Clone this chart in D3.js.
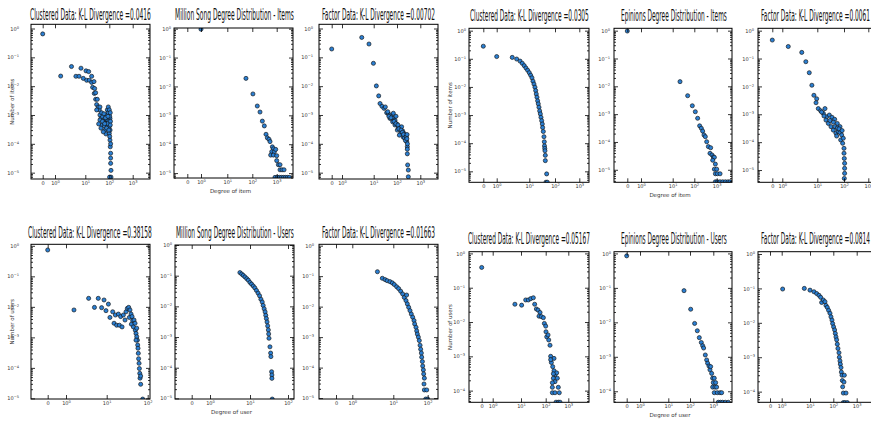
<!DOCTYPE html>
<html lang="en">
<head>
  <meta charset="UTF-8">
  <title>Degree distributions</title>
  <script src="https://d3js.org/d3.v7.min.js"></script>
  <style>
    body { margin: 0; background: #fff; }
    svg { display: block; }
    .tick text { font-family: "DejaVu Sans", sans-serif; font-size: 5px; fill: #333; }
    .tick line { stroke: #000; stroke-width: 0.8; }
    .axis-title { font-family: "DejaVu Sans", sans-serif; font-size: 5.5px; fill: #333; }
    .title { font-family: "DejaVu Sans", sans-serif; font-size: 15.5px; fill: #111; }
  </style>
</head>
<body>
  <svg width="871" height="422"></svg>
  <script>
    // titles, in panel order (left half 3x2, right half 3x2)
    const titles = [
      "Clustered Data: K-L Divergence =0.0416",
      "Million Song Degree Distribution - Items",
      "Factor Data: K-L Divergence =0.00702",
      "Clustered Data: K-L Divergence =0.0305",
      "Epinions Degree Distribution - Items",
      "Factor Data: K-L Divergence =0.0061",
      "Clustered Data: K-L Divergence =0.38158",
      "Million Song Degree Distribution - Users",
      "Factor Data: K-L Divergence =0.01663",
      "Clustered Data: K-L Divergence =0.05167",
      "Epinions Degree Distribution - Users",
      "Factor Data: K-L Divergence =0.0814"
    ];
    const yTitles = ["Number of items", "", "", "Number of items", "", "", "Number of users", "", "", "Number of users", "", ""];
    const xTitles = ["", "Degree of item", "", "", "Degree of item", "", "", "Degree of user", "", "", "Degree of user", ""];
    const xTickValues = [0, 1, 10, 100, 1000];

    // [degree, fraction]
    const clusteredItemsL = [[0,0.65],[1.54,0.0224],[3.5,0.048],[4.9,0.022],[6.2,0.022],[7.2,0.042],[8.6,0.0186],[10.7,0.034],[13.8,0.032],[11.4,0.016],[14.7,0.016],[18.4,0.022],[18.4,0.0135],[23,0.0144],[20.2,0.0091],[24.5,0.0083],[23.7,0.0056],[27,0.0059],[27,0.0035],[31.6,0.0035],[29.7,0.0023],[34.8,0.0019],[38.3,0.0015],[40.8,0.001],[48,0.0012],[45,0.00076],[52.7,0.00087],[56,0.00059],[49.5,0.00045],[62,0.00042],[68,0.0003],[72.6,0.00022],[66,0.00076],[77.4,0.001],[82.6,0.0015],[90.8,0.0019],[82.6,0.00067],[90.8,0.00051],[100,0.0004],[77.4,0.00035],[107,0.00076],[100,0.00023],[107,0.000135],[110,7.9e-5],[114,4.7e-5],[114,3.2e-5],[114,2.1e-5],[118,1.2e-5],[118,7e-6],[103,7e-6],[40.8,6.7e-4],[36,4.9e-4],[45,3.5e-4],[56,2.6e-4],[72.6,5.1e-4],[90.8,1.2e-3],[100,1.5e-3],[60,1.1e-3],[29.7,1.5e-3],[40.8,1.9e-3],[104,0.0009],[95,0.0006],[85,0.0005],[110,0.0012],[112,0.0006],[108,0.0003],[104,0.00018],[52,0.0006],[64,0.0005],[70,0.0008],[88,0.0009],[96,0.0003],[110,0.00045],[114,0.0001]];
    const millionSongItems = [[1,0.96],[55.8,0.019],[106,0.0055],[160,0.0021],[207,0.0013],[258,0.00063],[311,0.00043],[365,0.00022],[413,0.000166],[484,0.000148],[532,0.000123],[664,8.1e-5],[730,6.9e-5],[624,5.5e-5],[802,5.5e-5],[910,6.6e-5],[566,4.2e-5],[730,4.2e-5],[1000,4e-5],[1000,2.7e-5],[1170,1.95e-5],[1370,1.95e-5],[1370,1.3e-5],[1660,1.3e-5],[2000,1.3e-5],[852,7.1e-6],[1065,7.1e-6],[1290,7.1e-6],[1560,7.1e-6],[1880,7.1e-6],[2270,7.1e-6],[2740,7.1e-6],[3300,7.1e-6]];
    const factorItemsL = [[0,0.195],[4.2,0.49],[7.1,0.29],[9.8,0.062],[13,0.0102],[16.4,0.0046],[18.7,0.0025],[22.7,0.002],[27.7,0.0017],[31.6,0.0019],[36,0.0012],[42.5,0.0011],[50,0.001],[59,0.00087],[69.6,0.00076],[50,0.00076],[65,0.00058],[82,0.00066],[97,0.00049],[82,0.00045],[114,0.00039],[103,0.0003],[134,0.00035],[158,0.00039],[175,0.00028],[144,0.00023],[200,0.00023],[126,0.0002],[187,0.00017],[220,0.0002],[243,0.000155],[260,0.00012],[277,7.9e-5],[277,6.5e-5],[277,4.5e-5],[286,1.85e-5],[306,1.23e-5],[306,7.2e-6],[69.6,0.00115],[90.6,0.0009],[40,0.0013],[45,0.0009],[55,0.0008],[75,0.0006],[90,0.0005],[110,0.00045],[120,0.00033],[150,0.0003],[170,0.00025],[190,0.00021],[210,0.00016],[230,0.00013],[250,0.00018],[265,0.00015],[280,0.0001],[270,0.00021]];
    const clusteredItemsR = [[0,0.28],[1,0.12],[3.0,0.112],[4.1,0.098],[5.2,0.083],[6.1,0.069],[7.0,0.057],[7.9,0.047],[8.9,0.039],[10,0.032],[11.3,0.026],[12.7,0.021],[13.9,0.016],[15.2,0.0126],[16.6,0.0098],[17.7,0.0074],[18.7,0.0056],[19.9,0.0043],[21.1,0.0032],[22.4,0.0025],[23.8,0.0019],[25.3,0.0014],[26.9,0.0011],[28.5,0.00083],[30.3,0.00063],[32.1,0.00048],[33,0.00036],[35.1,0.00026],[37.2,0.00017],[38.4,0.000112],[39,8e-5],[40,6.5e-5],[40.7,5.4e-5],[42,3.7e-5],[42,2.4e-5],[47.3,8.1e-6],[44.6,4.1e-6],[50.2,4.1e-6]];
    const epinionsItems = [[0,0.97],[21.8,0.0147],[49.2,0.0046],[81,0.002],[111,0.00122],[141,0.00071],[173,0.00038],[206,0.00031],[236,0.000245],[271,0.000178],[311,0.000155],[357,0.000102],[424,6.8e-5],[538,6.2e-5],[502,3.9e-5],[618,3.4e-5],[709,2.9e-5],[787,2.8e-5],[662,2.2e-5],[872,1.6e-5],[787,1.05e-5],[1000,1.05e-5],[872,7.2e-6],[1070,7.2e-6],[1410,7.2e-6],[872,3.7e-6],[1070,3.7e-6],[1410,3.7e-6],[1860,3.7e-6],[2440,3.7e-6],[3220,3.7e-6],[3950,3.7e-6]];
    const factorItemsR = [[0,0.46],[1.48,0.27],[3.6,0.166],[4.7,0.077],[5.9,0.031],[7.0,0.011],[8.0,0.0048],[9.6,0.0036],[9.2,0.0026],[10.9,0.0016],[13.3,0.00134],[19.4,0.0016],[16.8,0.00108],[22.4,0.00082],[28.2,0.00094],[35.5,0.00078],[44.7,0.00066],[56,0.00047],[70.8,0.00036],[21.1,0.00062],[25.9,0.00047],[32.6,0.00036],[39.8,0.00027],[50,0.00021],[61,0.00024],[46,0.00036],[53,0.000166],[70.8,0.00022],[82,0.00018],[75,0.00012],[89,9.1e-5],[94,0.000138],[100,6e-5],[100,4e-5],[103,2.6e-5],[106,1.74e-5],[106,1.15e-5],[106,7.6e-6],[103,5e-6],[17.8,0.00087],[56,0.00032],[14.5,0.0012],[30,0.0006],[40,0.00052],[65,0.0003],[85,0.00026]];
    const clusteredUsersL = [[0,0.73],[1.57,0.0079],[3.6,0.019],[5.0,0.0096],[6.2,0.019],[7.5,0.0094],[8.6,0.0168],[9.6,0.0075],[11,0.0123],[12,0.0045],[14,0.0069],[15.1,0.0029],[16.3,0.0054],[17.5,0.0025],[19.3,0.0058],[20.4,0.0025],[21.9,0.0048],[23.7,0.0022],[25.5,0.0054],[28,0.0037],[29.6,0.0069],[31.9,0.0089],[34.4,0.0096],[37,0.0079],[39.3,0.0058],[35.7,0.0045],[41.5,0.0048],[43,0.0035],[40,0.0027],[44.7,0.0022],[46.4,0.0037],[49.1,0.0029],[50,0.0017],[51.9,0.00134],[54,0.002],[54,0.00105],[56,0.00081],[57,0.00056],[58,0.00044],[59,0.0003],[60,0.0002],[61.5,0.000141],[62.7,9.5e-5],[64,6.6e-5],[65,4.6e-5],[67.4,2.9e-5],[67.4,5.4e-5],[75.5,9.5e-6],[51.9,0.00081]];
    const millionSongUsers = [[5.6,0.126],[6.2,0.113],[6.8,0.102],[7.5,0.091],[8.3,0.08],[9.1,0.071],[10,0.06],[11,0.053],[12.2,0.046],[13.4,0.04],[14.8,0.033],[16.3,0.027],[17.9,0.022],[19.4,0.017],[21,0.0138],[22.2,0.0107],[23.6,0.0083],[25,0.0066],[26,0.0051],[27,0.004],[28.1,0.0031],[29.2,0.0023],[30.4,0.0017],[31,0.00126],[31.6,0.00091],[33.5,0.00048],[34.9,0.0003],[35.5,0.00023],[37,7.4e-5],[37.7,5.8e-5],[37.7,4.5e-5],[38.5,9.5e-6]];
    const factorUsersL = [[4.1,0.14],[5.4,0.085],[6.3,0.077],[7.1,0.071],[8.3,0.066],[9.5,0.06],[10.7,0.053],[12.5,0.045],[14.3,0.039],[16.4,0.032],[18.7,0.026],[20.9,0.02],[24.4,0.024],[23.4,0.0158],[25.6,0.0123],[28,0.0095],[30.6,0.0074],[33.4,0.0057],[36.6,0.0045],[40,0.0035],[41.8,0.0027],[45.7,0.0021],[47.9,0.0016],[50,0.00126],[53.5,0.001],[57,0.00077],[60,0.00054],[62.5,0.0004],[65.4,0.0003],[66.9,0.00022],[70,0.000158],[71.5,0.000113],[74.8,8.4e-5],[76.4,6.2e-5],[80,4.5e-5],[78,2.9e-5],[80,1.85e-5],[93.6,1.85e-5],[87.5,9.3e-6],[100,9.3e-6]];
    const clusteredUsersR = [[0,0.39],[6.1,0.033],[10.6,0.031],[15.5,0.044],[19.8,0.044],[24.7,0.048],[31.6,0.051],[35.8,0.033],[41.9,0.024],[48.9,0.0224],[58.9,0.019],[53.7,0.0148],[66.7,0.0144],[80.4,0.0134],[88.3,0.0091],[100,0.0076],[103,0.0052],[111,0.0037],[127,0.0042],[136,0.003],[155,0.0021],[166,0.001],[178,0.00066],[233,0.00087],[204,0.0005],[233,0.00038],[258,0.00029],[218,0.00023],[258,0.000183],[306,0.00033],[327,0.00023],[362,0.000125],[197,0.00017],[197,0.000125],[197,8.7e-5],[258,8.7e-5],[400,8.7e-5],[286,4.6e-5],[362,4.6e-5],[430,4.6e-5],[218,0.00031],[166,0.0008]];
    const epinionsUsers = [[0,0.85],[53,0.083],[107,0.024],[158,0.0093],[206,0.0057],[251,0.0036],[306,0.0026],[349,0.0021],[385,0.0018],[454,0.00113],[518,0.00081],[571,0.00065],[652,0.00054],[719,0.00042],[769,0.00052],[849,0.00033],[937,0.00024],[1100,0.00024],[1000,0.000178],[1260,0.000178],[937,0.000132],[1180,0.000132],[1390,0.000132],[1100,9.1e-5],[1480,9.1e-5],[1930,9.1e-5],[2280,9.1e-5],[1640,4.8e-5],[2060,4.8e-5],[2510,4.8e-5],[3270,4.8e-5],[4390,4.8e-5]];
    const factorUsersR = [[1.08,0.096],[6.3,0.1],[10,0.089],[14.8,0.08],[19.3,0.071],[24.3,0.063],[28.7,0.055],[31.6,0.039],[37.3,0.046],[44,0.041],[48.5,0.032],[55.3,0.028],[63,0.023],[72,0.019],[79.4,0.0149],[87.7,0.012],[93.6,0.0095],[103,0.0076],[114,0.0062],[122,0.0049],[130,0.0039],[139,0.0032],[148,0.0024],[158,0.0018],[175,0.00135],[181,0.001],[193,0.00078],[200,0.00063],[213,0.0005],[221,0.00037],[236,0.0003],[296,0.0003],[243,0.00021],[286,0.00019],[251,0.000138],[268,9.1e-5],[349,9.1e-5],[268,4.8e-5],[316,4.8e-5],[398,4.8e-5]];

    const series = [clusteredItemsL, millionSongItems, factorItemsL, clusteredItemsR, epinionsItems, factorItemsR,
                    clusteredUsersL, millionSongUsers, factorUsersL, clusteredUsersR, epinionsUsers, factorUsersR];

    // layout: plot box [left, top, right, bottom], log10 y range, pixel spots of the x ticks,
    // y label padding, title span [x0, x1, baseline]
    const layout = [
      { box: [31, 24.3, 150, 179],   ylog: [-5.22, 0.146], xt: [42.7, 55, 85.3, 109.3, 132.7],   pad: 12, tt: [30, 151, 20] },
      { box: [174, 28, 293, 178],    ylog: [-5.17, 0.023], xt: [187.3, 201, 227.3, 252.3, 276.7], pad: 3,  tt: [175, 294, 20] },
      { box: [319, 24.3, 438, 179],  ylog: [-5.22, 0.146], xt: [331.7, 342, 373.7, 397, 420.3],   pad: 6,  tt: [322, 435, 20] },
      { box: [469, 28.3, 589, 182.3], ylog: [-5.39, 0.084], xt: [483.3, 496.7, 529.3, 555, 579.3], pad: 3,  tt: [470, 589, 21] },
      { box: [614, 28.3, 732, 182.3], ylog: [-5.45, 0.085], xt: [627.3, 641, 672.7, 694.3, 716.7], pad: 4,  tt: [621, 727, 21] },
      { box: [758, 28.3, 878, 182.3], ylog: [-5.44, 0.085], xt: [772.3, 782.3, 817.3, 844, 868.3], pad: 4,  tt: [761, 870, 21] },
      { box: [31, 244.3, 150, 399],  ylog: [-5.02, 0.05],  xt: [47.7, 66, 106.7, 147.7],          pad: 12, tt: [28, 152, 237.5] },
      { box: [175, 245, 294, 399],   ylog: [-5.02, 0.0],   xt: [191.7, 210, 250, 288],            pad: 3,  tt: [176, 294, 237.5] },
      { box: [319, 244.3, 438, 399], ylog: [-5.03, 0.045], xt: [336, 352.3, 393.3, 427.7],        pad: 5,  tt: [322, 435, 237.5] },
      { box: [469, 251.7, 589, 402.3], ylog: [-4.34, 0.05], xt: [481.7, 492.7, 521, 545.7, 568.3], pad: 4, tt: [468, 590, 244] },
      { box: [614, 251.7, 732, 402.3], ylog: [-4.32, 0.05], xt: [626.7, 640, 668.3, 690, 713.3],   pad: 3, tt: [621, 727, 244] },
      { box: [758, 251.7, 878, 402.3], ylog: [-4.31, 0.067], xt: [770, 781.7, 810, 833.3, 856.7],  pad: 3, tt: [761, 870, 244] }
    ];

    // symlog-like position: linear up to 1, log above
    const tPos = d => d <= 1 ? d * 0.5 : 0.5 + Math.log10(d);

    const svg = d3.select("svg");

    const supLabel = (sel, base, exp) => {
      sel.text(base);
      if (exp !== null) sel.append("tspan").attr("dy", -2).style("font-size", "3.6px").text(exp);
    };

    layout.forEach((p, i) => {
      const [l, t, r, b] = p.box;
      const ticks = xTickValues.slice(0, p.xt.length);
      const x = d3.scaleLinear().domain(ticks.map(tPos)).range(p.xt);
      const y = d3.scaleLog().domain([10 ** p.ylog[0], 10 ** p.ylog[1]]).range([b, t]);

      const majors = d3.range(Math.ceil(p.ylog[0]), Math.floor(p.ylog[1]) + 1).map(k => 10 ** k);
      const minors = [];
      for (let k = Math.floor(p.ylog[0]); k <= 0; k++)
        for (let m = 2; m < 10; m++) {
          const v = m * 10 ** k;
          if (v > y.domain()[0] && v < y.domain()[1]) minors.push(v);
        }

      const g = svg.append("g");

      svg.append("clipPath").attr("id", "clip" + i)
        .append("rect").attr("x", l).attr("y", t).attr("width", r - l).attr("height", b - t);

      g.append("g").attr("clip-path", `url(#clip${i})`)
        .selectAll("circle")
        .data(series[i])
        .join("circle")
        .attr("cx", d => x(tPos(d[0])))
        .attr("cy", d => y(d[1]))
        .attr("r", 2.05)
        .attr("fill", "#2b7fd2")
        .attr("stroke", "#111")
        .attr("stroke-width", 0.65);

      const clean = sel => { sel.select(".domain").remove(); sel.attr("font-size", null).attr("font-family", null); };

      // y axis, ticks pointing in
      g.append("g").attr("transform", `translate(${l},0)`)
        .call(d3.axisLeft(y).tickValues(majors).tickSize(-4).tickPadding(p.pad).tickFormat(""))
        .call(clean)
        .call(sel => sel.selectAll(".tick text").each(function (d) {
          const k = Math.round(Math.log10(d));
          supLabel(d3.select(this), "10", k === 0 ? "0" : "\u2212" + (-k));
        }));
      g.append("g").attr("transform", `translate(${l},0)`)
        .call(d3.axisLeft(y).tickValues(minors).tickSize(-2).tickFormat("")).call(clean);
      g.append("g").attr("transform", `translate(${r},0)`)
        .call(d3.axisRight(y).tickValues(majors).tickSize(-4).tickFormat("")).call(clean);
      g.append("g").attr("transform", `translate(${r},0)`)
        .call(d3.axisRight(y).tickValues(minors).tickSize(-2).tickFormat("")).call(clean);

      // x axis
      g.append("g").attr("transform", `translate(0,${b})`)
        .call(d3.axisBottom(x).tickValues(ticks.map(tPos)).tickSize(-4).tickPadding(2.5).tickFormat(""))
        .call(clean)
        .call(sel => sel.selectAll(".tick text").each(function (d, j) {
          if (j === 0) supLabel(d3.select(this), "0", null);
          else supLabel(d3.select(this), "10", String(j - 1));
        }));
      g.append("g").attr("transform", `translate(0,${t})`)
        .call(d3.axisTop(x).tickValues(ticks.map(tPos)).tickSize(-4).tickFormat(""))
        .call(clean);

      g.append("rect")
        .attr("x", l).attr("y", t).attr("width", r - l).attr("height", b - t)
        .attr("fill", "none").attr("stroke", "#000").attr("stroke-width", 1);

      // narrow titles: squeeze horizontally to the span seen in the figure
      const title = g.append("text")
        .attr("class", "title")
        .text(titles[i]);
      const natural = title.node().getComputedTextLength();
      title.attr("transform", `translate(${p.tt[0]},${p.tt[2]}) scale(${(p.tt[1] - p.tt[0]) / natural},1)`);

      if (yTitles[i]) {
        g.append("text")
          .attr("class", "axis-title")
          .attr("transform", `translate(${l - 17},${(t + b) / 2}) rotate(-90)`)
          .attr("text-anchor", "middle")
          .text(yTitles[i]);
      }
      if (xTitles[i]) {
        g.append("text")
          .attr("class", "axis-title")
          .attr("x", (l + r) / 2 - 3)
          .attr("y", b + 15)
          .attr("text-anchor", "middle")
          .text(xTitles[i]);
      }
    });
  </script>
</body>
</html>
